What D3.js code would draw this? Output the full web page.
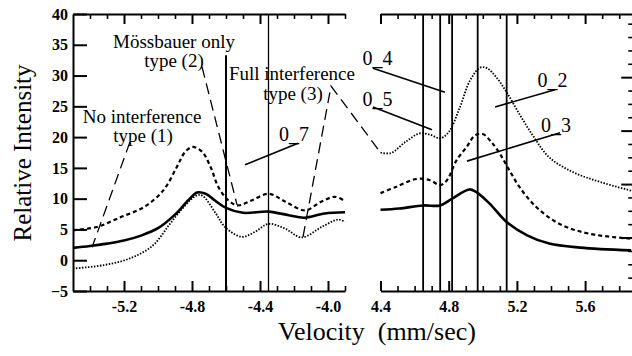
<!DOCTYPE html>
<html>
<head>
<meta charset="utf-8">
<script src="https://cdn.jsdelivr.net/npm/d3@7"></script>
<style>
  body { margin: 0; background: #fff; }
  #main { width: 632px; height: 356px; overflow: hidden; }
</style>
</head>
<body>
<div id="main"></div>
<script>
// [velocity (mm/sec), relative intensity]
const noInterferenceLeft = [[-5.5, 2.0], [-5.4, 2.3], [-5.3, 2.7], [-5.2, 3.2], [-5.1, 4.0], [-5.0, 5.2], [-4.9, 7.4],
  [-4.82, 9.8], [-4.77, 11.0], [-4.72, 10.8], [-4.665, 9.7], [-4.6, 8.5], [-4.5, 7.7], [-4.35, 7.9], [-4.23, 7.3],
  [-4.14, 6.9], [-4.02, 7.6], [-3.9, 7.8]];
const mossbauerLeft = [[-5.5, 4.9], [-5.36, 5.4], [-5.22, 7.0], [-5.085, 8.6], [-4.97, 11.3], [-4.89, 15.1], [-4.84, 17.6],
  [-4.795, 18.4], [-4.74, 17.6], [-4.69, 15.1], [-4.645, 11.9], [-4.585, 9.7], [-4.53, 8.9], [-4.45, 9.7], [-4.35, 10.8],
  [-4.25, 9.5], [-4.135, 8.1], [-4.04, 9.5], [-3.96, 10.3], [-3.9, 9.6]];
const fullLeft = [[-5.5, -1.35], [-5.32, -0.8], [-5.165, 0.3], [-5.03, 2.4], [-4.93, 5.9], [-4.85, 8.6], [-4.775, 10.5],
  [-4.74, 10.5], [-4.66, 7.6], [-4.606, 5.4], [-4.508, 3.8], [-4.43, 4.6], [-4.35, 5.9], [-4.25, 5.1], [-4.155, 3.7],
  [-4.037, 5.4], [-3.94, 6.6], [-3.9, 6.2]];

const noInterferenceRight = [[4.4, 8.2], [4.51, 8.4], [4.65, 8.9], [4.75, 8.9], [4.82, 10.0], [4.92, 11.5], [4.96, 11.1],
  [5.04, 9.2], [5.14, 6.2], [5.26, 4.05], [5.39, 2.7], [5.57, 2.05], [5.87, 1.6]];
const mossbauerRight = [[4.4, 10.9], [4.49, 11.9], [4.61, 13.2], [4.69, 13.0], [4.75, 12.2], [4.79, 13.0], [4.845, 16.2],
  [4.905, 18.4], [4.955, 20.3], [5.0, 20.5], [5.05, 19.2], [5.1, 17.3], [5.15, 14.9], [5.215, 11.9], [5.315, 8.6],
  [5.45, 5.9], [5.625, 4.3], [5.87, 3.5]];
const fullRight = [[4.4, 17.5], [4.46, 17.4], [4.55, 19.3], [4.63, 20.6], [4.69, 20.4], [4.75, 19.8], [4.8, 20.8],
  [4.865, 24.8], [4.925, 29.2], [4.985, 31.3], [5.025, 31.2], [5.08, 29.7], [5.14, 27.3], [5.22, 23.5], [5.3, 20.0],
  [5.39, 16.7], [5.53, 14.3], [5.69, 12.7], [5.87, 11.3]];

const yTicks = [-5, 0, 5, 10, 15, 20, 25, 30, 35, 40];
const leftMajorTicks = [-5.2, -4.8, -4.4, -4.0];
const leftMinorTicks = [-5.4, -5.3, -5.1, -5.0, -4.9, -4.7, -4.6, -4.5, -4.3, -4.2, -4.1, -3.9];
const rightMajorTicks = [4.4, 4.8, 5.2, 5.6];
const rightMinorTicks = [4.5, 4.6, 4.7, 4.9, 5.0, 5.1, 5.3, 5.4, 5.5, 5.7, 5.8];
const rightAxisMajor = [1, 2, 3, 4];
const rightAxisMinor = [0.25, 0.5, 0.75, 1.25, 1.5, 1.75, 2.25, 2.5, 2.75, 3.25, 3.5, 3.75, 4.25, 4.5, 4.75, 5.0];

// vertical marker lines: [velocity, top intensity]
const leftMarkers = [[-4.6, 33.3, 2], [-4.35, 40, 1.3]];
const rightMarkers = [4.65, 4.75, 4.82, 4.97, 5.14];

// annotations: panel, velocity, intensity
const labels = [
  { t: 'Mössbauer only', p: 'L', v: -4.906, i: 34.5, s: 19 },
  { t: 'type (2)', p: 'L', v: -4.906, i: 31.4, s: 19 },
  { t: 'No interference', p: 'L', v: -5.094, i: 22.3, s: 19 },
  { t: 'type (1)', p: 'L', v: -5.088, i: 19.2, s: 19 },
  { t: 'Full interference', p: 'L', v: -4.212, i: 29.3, s: 19 },
  { t: 'type (3)', p: 'L', v: -4.206, i: 26.0, s: 19 },
  { t: '0_7', p: 'L', v: -4.2, i: 19.4, s: 20 },
  { t: '0_4', p: 'R', v: 4.382, i: 31.7, s: 20 },
  { t: '0_5', p: 'R', v: 4.382, i: 25.05, s: 20 },
  { t: '0_2', p: 'R', v: 5.409, i: 28.2, s: 20 },
  { t: '0_3', p: 'R', v: 5.429, i: 20.9, s: 20 },
];
const pointers = [
  [['L', -4.176, 19.0], ['L', -4.488, 15.5]],
  [['R', 4.356, 31.2], ['R', 4.778, 27.3]],
  [['R', 4.356, 24.9], ['R', 4.702, 21.2]],
  [['R', 5.423, 27.7], ['R', 5.072, 24.9]],
  [['R', 5.453, 20.7], ['R', 4.907, 16.1]],
];
const typePointers = [
  [['L', -5.165, 19.2], ['L', -5.388, 2.1]],
  [['L', -4.741, 31.4], ['L', -4.535, 9.0]],
  [['L', -4.147, 3.8], ['L', -3.982, 28.3], ['R', 4.397, 17.6]],
];

const width = 632;
const height = 356;

const xLeft = d3.scaleLinear().domain([-5.5, -3.9]).range([73, 345]);
const xRight = d3.scaleLinear().domain([4.4, 5.9]).range([380.5, 636.25]);
const y = d3.scaleLinear().domain([-5, 40]).range([291, 14]);
const yRight = d3.scaleLinear().domain([0, 5.2]).range([291, 13]);
const xOf = (p, v) => (p === 'L' ? xLeft(v) : xRight(v));

const svg = d3.select('#main')
  .append('svg')
  .attr('width', width)
  .attr('height', height)
  .style('background', '#fff');

const serif = '"Liberation Serif", "Times New Roman", serif';

// curves
const styles = [
  { w: 2.6, dash: null },
  { w: 2.2, dash: '4,3' },
  { w: 1.8, dash: '1.5,1.5' },
];
[[noInterferenceLeft, noInterferenceRight], [mossbauerLeft, mossbauerRight], [fullLeft, fullRight]].forEach((pair, k) => {
  [xLeft, xRight].forEach((xs, j) => {
    const line = d3.line()
      .x((d) => xs(d[0]))
      .y((d) => y(d[1]))
      .curve(d3.curveCatmullRom.alpha(0.5));
    svg.append('path')
      .datum(pair[j])
      .attr('d', line)
      .attr('fill', 'none')
      .attr('stroke', '#000')
      .attr('stroke-width', styles[k].w)
      .attr('stroke-dasharray', styles[k].dash);
  });
});

// marker lines
svg.selectAll('.markL')
  .data(leftMarkers)
  .enter()
  .append('line')
  .attr('x1', (d) => xLeft(d[0]))
  .attr('x2', (d) => xLeft(d[0]))
  .attr('y1', (d) => y(d[1]))
  .attr('y2', y(-5))
  .attr('stroke', '#000')
  .attr('stroke-width', (d) => d[2]);

svg.selectAll('.markR')
  .data(rightMarkers)
  .enter()
  .append('line')
  .attr('x1', (d) => xRight(d))
  .attr('x2', (d) => xRight(d))
  .attr('y1', y(40))
  .attr('y2', y(-5))
  .attr('stroke', '#000')
  .attr('stroke-width', 1.8);

function styleAxis(g, w) {
  g.selectAll('path, line').attr('stroke', '#000').attr('stroke-width', w);
  g.attr('font-family', serif).attr('font-size', 16).attr('font-weight', 'bold');
  g.selectAll('text').attr('fill', '#000');
}

const fmt = (d) => d.toFixed(1);

[[xLeft, leftMajorTicks, leftMinorTicks], [xRight, rightMajorTicks, rightMinorTicks]].forEach(([xs, major, minor]) => {
  svg.append('g')
    .attr('transform', `translate(0,${y(-5)})`)
    .call(d3.axisBottom(xs).tickValues(major).tickSize(-10).tickSizeOuter(0).tickPadding(10).tickFormat(fmt))
    .call((g) => styleAxis(g, 2));
  svg.append('g')
    .attr('transform', `translate(0,${y(-5)})`)
    .call(d3.axisBottom(xs).tickValues(minor).tickSize(-5).tickFormat(''))
    .call((g) => g.select('.domain').remove())
    .call((g) => styleAxis(g, 1.6));
  svg.append('g')
    .attr('transform', `translate(0,${y(40)})`)
    .call(d3.axisTop(xs).tickValues(major).tickSize(-10).tickSizeOuter(0).tickFormat(''))
    .call((g) => styleAxis(g, 2));
  svg.append('g')
    .attr('transform', `translate(0,${y(40)})`)
    .call(d3.axisTop(xs).tickValues(minor).tickSize(-5).tickFormat(''))
    .call((g) => g.select('.domain').remove())
    .call((g) => styleAxis(g, 1.6));
});

svg.append('g')
  .attr('transform', `translate(${xLeft(-5.5)},0)`)
  .call(d3.axisLeft(y).tickValues(yTicks).tickSize(-14).tickSizeOuter(0).tickPadding(5).tickFormat(d3.format('d')))
  .call((g) => styleAxis(g, 2));

svg.append('g')
  .attr('transform', `translate(${xRight(5.9)},0)`)
  .call(d3.axisRight(yRight).tickValues(rightAxisMajor).tickSize(-15).tickSizeOuter(0).tickFormat(''))
  .call((g) => styleAxis(g, 2));
svg.append('g')
  .attr('transform', `translate(${xRight(5.9)},0)`)
  .call(d3.axisRight(yRight).tickValues(rightAxisMinor).tickSize(-8).tickFormat(''))
  .call((g) => g.select('.domain').remove())
  .call((g) => styleAxis(g, 1.6));

// annotation pointers
svg.selectAll('.pointer')
  .data(pointers)
  .enter()
  .append('path')
  .attr('d', (d) => d3.line()(d.map((q) => [xOf(q[0], q[1]), y(q[2])])))
  .attr('fill', 'none')
  .attr('stroke', '#000')
  .attr('stroke-width', 1.6);

svg.selectAll('.typePointer')
  .data(typePointers)
  .enter()
  .append('path')
  .attr('d', (d) => d3.line()(d.map((q) => [xOf(q[0], q[1]), y(q[2])])))
  .attr('fill', 'none')
  .attr('stroke', '#000')
  .attr('stroke-width', 1.3)
  .attr('stroke-dasharray', '11,6');

svg.selectAll('.label')
  .data(labels)
  .enter()
  .append('text')
  .attr('x', (d) => xOf(d.p, d.v))
  .attr('y', (d) => y(d.i))
  .attr('text-anchor', 'middle')
  .attr('font-family', serif)
  .attr('font-size', (d) => d.s)
  .text((d) => d.t);

svg.append('text')
  .attr('transform', 'translate(31,153) rotate(-90)')
  .attr('text-anchor', 'middle')
  .attr('font-family', serif)
  .attr('font-size', 25)
  .text('Relative Intensity');

svg.append('text')
  .attr('x', 377)
  .attr('y', 340)
  .attr('text-anchor', 'middle')
  .attr('font-family', serif)
  .attr('font-size', 26)
  .attr('xml:space', 'preserve')
  .style('white-space', 'pre')
  .text('Velocity  (mm/sec)');
</script>
</body>
</html>
